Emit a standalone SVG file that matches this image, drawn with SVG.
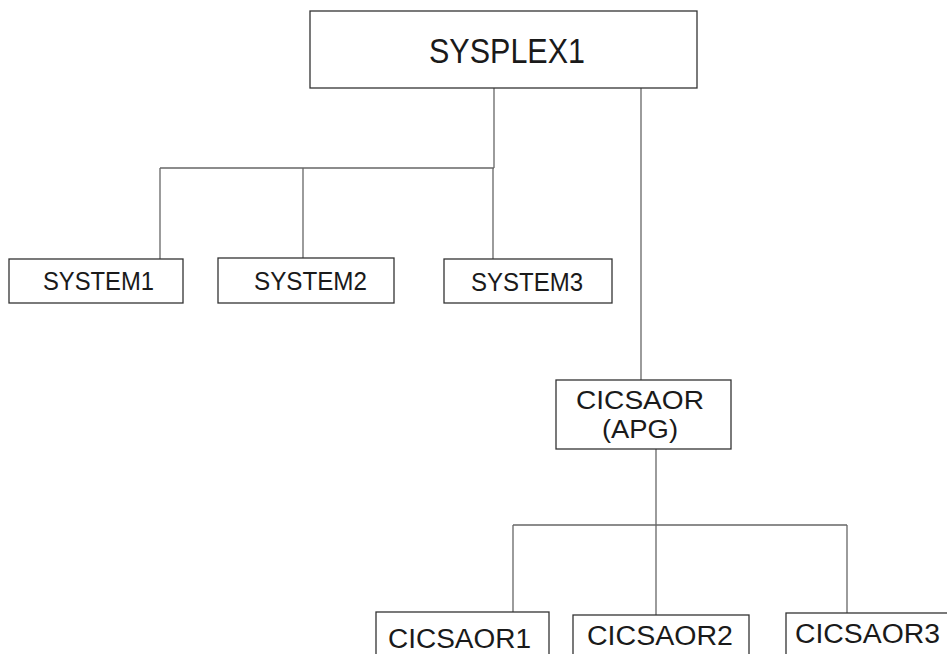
<svg xmlns="http://www.w3.org/2000/svg" width="947" height="654" viewBox="0 0 947 654">
  <style>
    .box { fill: #ffffff; stroke: #333333; stroke-width: 1.3; }
    .conn { stroke: #666666; stroke-width: 1.3; fill: none; }
    .lbl { font-family: "Liberation Sans", Arial, sans-serif; fill: #1a1a1a; }
    .big { font-size: 35px; }
    .mid { font-size: 25px; }
    .low { font-size: 27px; }
  </style>
  <rect width="947" height="654" fill="#ffffff"/>
  <g id="connectors">
    <line class="conn" x1="494" y1="88" x2="494" y2="168"/>
    <line class="conn" x1="160" y1="168" x2="494" y2="168"/>
    <line class="conn" x1="160" y1="168" x2="160" y2="259"/>
    <line class="conn" x1="303" y1="168" x2="303" y2="258"/>
    <line class="conn" x1="493" y1="168" x2="493" y2="259"/>
    <line class="conn" x1="641" y1="88" x2="641" y2="380"/>
    <line class="conn" x1="656" y1="449" x2="656" y2="525"/>
    <line class="conn" x1="513" y1="525" x2="847" y2="525"/>
    <line class="conn" x1="513" y1="525" x2="513" y2="612"/>
    <line class="conn" x1="656" y1="525" x2="656" y2="615"/>
    <line class="conn" x1="847" y1="525" x2="847" y2="613"/>
  </g>
  <g id="sysplex1">
    <rect class="box" x="310" y="11" width="387" height="77"/>
    <text class="lbl big" x="429" y="63" textLength="156" lengthAdjust="spacingAndGlyphs">SYSPLEX1</text>
  </g>
  <g id="system1">
    <rect class="box" x="9" y="259" width="174" height="44"/>
    <text class="lbl mid" x="43" y="290" textLength="111" lengthAdjust="spacingAndGlyphs">SYSTEM1</text>
  </g>
  <g id="system2">
    <rect class="box" x="218" y="258" width="176" height="45"/>
    <text class="lbl mid" x="254" y="290" textLength="113" lengthAdjust="spacingAndGlyphs">SYSTEM2</text>
  </g>
  <g id="system3">
    <rect class="box" x="444" y="259" width="168" height="44"/>
    <text class="lbl mid" x="471" y="291" textLength="112" lengthAdjust="spacingAndGlyphs">SYSTEM3</text>
  </g>
  <g id="cicsaor-apg">
    <rect class="box" x="556" y="380" width="175" height="69"/>
    <text class="lbl mid" x="576" y="409" textLength="128" lengthAdjust="spacingAndGlyphs">CICSAOR</text>
    <text class="lbl mid" x="602" y="438" textLength="76" lengthAdjust="spacingAndGlyphs">(APG)</text>
  </g>
  <g id="cicsaor1">
    <rect class="box" x="376" y="612" width="173" height="60"/>
    <text class="lbl low" x="388" y="648" textLength="143" lengthAdjust="spacingAndGlyphs">CICSAOR1</text>
  </g>
  <g id="cicsaor2">
    <rect class="box" x="573" y="615" width="176" height="60"/>
    <text class="lbl low" x="587" y="645" textLength="146" lengthAdjust="spacingAndGlyphs">CICSAOR2</text>
  </g>
  <g id="cicsaor3">
    <rect class="box" x="786" y="613" width="180" height="60"/>
    <text class="lbl low" x="795" y="643" textLength="145" lengthAdjust="spacingAndGlyphs">CICSAOR3</text>
  </g>
</svg>
